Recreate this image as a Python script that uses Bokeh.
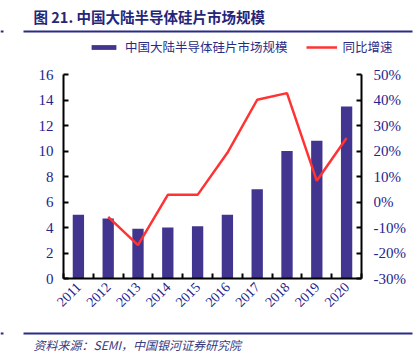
import numpy as np
from bokeh.plotting import figure
from bokeh.models import (Range1d, LinearAxis, FixedTicker, CustomJSTickFormatter,
                          PrintfTickFormatter, Legend, LegendItem, Label)
from bokeh.embed import file_html
from bokeh.resources import INLINE

years = ["2011", "2012", "2013", "2014", "2015", "2016", "2017", "2018", "2019", "2020"]
market_size = [5.0, 4.7, 3.9, 4.0, 4.1, 5.0, 7.0, 10.0, 10.8, 13.5]
growth_years = ["2012", "2013", "2014", "2015", "2016", "2017", "2018", "2019", "2020"]
growth_pct = [-5.8, -16.9, 2.8, 2.8, 19.3, 40.1, 42.7, 8.3, 25.1]
left_ticks = [0, 2, 4, 6, 8, 10, 12, 14, 16]
right_ticks = [-30, -20, -10, 0, 10, 20, 30, 40, 50]

title_text = "图 21. 中国大陆半导体硅片市场规模"
bar_name = "中国大陆半导体硅片市场规模"
line_name = "同比增速"
source_text = "资料来源：SEMI，中国银河证券研究院"

NAVY = "#2B2B85"
TICK_COLOR = "#24248C"
BAR_COLOR = "#41358F"
LINE_COLOR = "#FF3333"
CJK = "Noto Sans CJK SC"
SERIF = "Liberation Serif"

# canvas and chart-area geometry (pixels)
W, H = 417, 355
PL, PR, PT, PB = 63, 361, 74, 278
n = len(years)
y0, y1 = left_ticks[0], left_ticks[-1]
r0, r1 = right_ticks[0], right_ticks[-1]
sx = (PR - PL) / n
sy = (PB - PT) / (y1 - y0)
sr = (PB - PT) / (r1 - r0)

p = figure(width=W, height=H, title=None, output_backend="svg", toolbar_location=None,
           x_axis_location=None, y_axis_location=None, min_border=0,
           x_range=Range1d(-PL / sx, n + (W - PR) / sx),
           y_range=Range1d(y0 - (H - PB) / sy, y1 + PT / sy))
p.extra_y_ranges = {"pct": Range1d(r0 - (H - PB) / sr, r1 + PT / sr),
                    "px": Range1d(H, 0)}
p.extra_x_ranges = {"px": Range1d(0, W)}
p.grid.visible = False
p.outline_line_color = None

idx = {y: i for i, y in enumerate(years)}
bar_x = [idx[y] + 0.5 for y in years]
line_x = [idx[y] + 0.5 for y in growth_years]

bars = p.vbar(x=bar_x, top=market_size, bottom=0, width=0.38,
              fill_color=BAR_COLOR, line_color=None)
line = p.line(x=line_x, y=growth_pct, y_range_name="pct",
              line_color=LINE_COLOR, line_width=2.5)

def style_axis(ax, size):
    ax.axis_line_color = "black"
    ax.axis_line_width = 2
    ax.major_tick_line_color = "black"
    ax.major_tick_line_width = 2
    ax.major_tick_in = 5
    ax.major_tick_out = 0
    ax.minor_tick_line_color = None
    ax.major_label_text_font = SERIF
    ax.major_label_text_font_size = size
    ax.major_label_text_color = TICK_COLOR

xax = LinearAxis(fixed_location=y0, bounds=(0, n),
                 ticker=FixedTicker(ticks=bar_x, minor_ticks=list(range(n + 1))),
                 formatter=CustomJSTickFormatter(args=dict(labels=years),
                                                 code="return labels[Math.floor(tick)];"))
style_axis(xax, "14px")
xax.major_tick_in = 0
xax.minor_tick_in = 5
xax.minor_tick_out = 0
xax.minor_tick_line_color = "black"
xax.minor_tick_line_width = 2
xax.major_label_orientation = np.pi / 4
xax.major_label_standoff = 6
p.add_layout(xax, "below")

lax = LinearAxis(fixed_location=0, bounds=(y0, y1), ticker=FixedTicker(ticks=left_ticks))
style_axis(lax, "15px")
lax.major_label_standoff = 10
p.add_layout(lax, "left")

rax = LinearAxis(y_range_name="pct", fixed_location=n, bounds=(r0, r1),
                 ticker=FixedTicker(ticks=right_ticks),
                 formatter=PrintfTickFormatter(format="%d%%"))
style_axis(rax, "15px")
rax.major_label_standoff = 12
p.add_layout(rax, "right")

legend = Legend(items=[LegendItem(label=bar_name, renderers=[bars]),
                       LegendItem(label=line_name, renderers=[line])],
                orientation="horizontal", location=(88, H - 56),
                glyph_width=31, glyph_height=6, label_standoff=6, spacing=18,
                padding=0, margin=0, border_line_color=None, background_fill_alpha=0,
                label_text_font=CJK, label_text_font_size="12.5px",
                label_text_color=NAVY)
p.add_layout(legend, "center")

# header / footer decoration in page pixels
p.add_layout(Label(x=33, y=16, x_range_name="px", y_range_name="px", text=title_text,
                   text_font=CJK, text_font_style="bold", text_font_size="14.5px",
                   text_color="#25257A", text_baseline="middle"))
p.segment(x0=[23, 0, 23, 0], x1=[412, 3, 412, 3], y0=[31, 31, 333, 333], y1=[31, 31, 333, 333],
          x_range_name="px", y_range_name="px", line_color=NAVY, line_width=2)
p.add_layout(Label(x=33, y=344, x_range_name="px", y_range_name="px", text=source_text,
                   text_font=CJK, text_font_style="italic", text_font_size="12px",
                   text_color="#3A3A80", text_baseline="middle"))

open("out.html", "w").write(file_html(p, INLINE))
